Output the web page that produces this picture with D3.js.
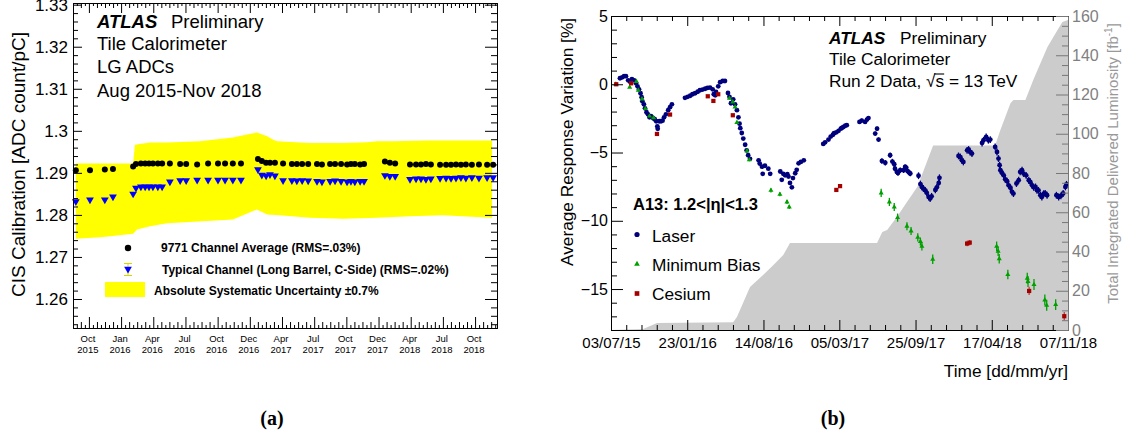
<!DOCTYPE html>
<html>
<head>
<meta charset="utf-8">
<script src="https://cdn.jsdelivr.net/npm/d3@7"></script>
<style>
  body { margin: 0; background: #fff; }
  svg { display: block; font-family: "Liberation Sans", Arial, sans-serif; }
</style>
</head>
<body>
<script>
// ---------------- panel (a): CIS calibration, LG ADCs ----------------
// days are counted from 20 Aug 2015
const cisDays = [8, 48, 90, 113, 170, 178, 192, 204, 215, 226, 240, 252, 274, 303, 320, 351,
  382, 410, 430, 452, 475, 523, 534, 546, 557, 571, 594, 619, 633, 648, 665, 690, 704, 727,
  741, 758, 775, 786, 797, 812, 823, 882, 896, 911, 953, 970, 984, 998, 1012, 1038, 1055,
  1069, 1083, 1097, 1111, 1128, 1148, 1171, 1188];
const cisAvg = [1.2906, 1.2906, 1.2908, 1.2909, 1.2915, 1.2921, 1.2922, 1.2922, 1.2922, 1.2922,
  1.2922, 1.2922, 1.2922, 1.2921, 1.2921, 1.2920, 1.2922, 1.2922, 1.2922, 1.2922, 1.2922,
  1.2933, 1.2928, 1.2924, 1.2924, 1.2924, 1.2922, 1.2921, 1.2921, 1.2921, 1.2921, 1.2921,
  1.2920, 1.2921, 1.2921, 1.2921, 1.2920, 1.2921, 1.2921, 1.2920, 1.2921, 1.2927, 1.2924,
  1.2922, 1.2920, 1.2920, 1.2920, 1.2921, 1.2920, 1.2919, 1.2919, 1.2919, 1.2920, 1.2919,
  1.2920, 1.2919, 1.2920, 1.2919, 1.2919];
const cisTyp = [1.2832, 1.2836, 1.2836, 1.2843, 1.2850, 1.2864, 1.2867, 1.2867, 1.2867, 1.2867,
  1.2867, 1.2867, 1.2879, 1.2882, 1.2882, 1.2883, 1.2883, 1.2883, 1.2883, 1.2883, 1.2883,
  1.2908, 1.2895, 1.2893, 1.2896, 1.2893, 1.2882, 1.2882, 1.2881, 1.2882, 1.2881, 1.2880,
  1.2879, 1.2880, 1.2881, 1.2880, 1.2879, 1.2880, 1.2879, 1.2880, 1.2880, 1.2894, 1.2892,
  1.2892, 1.2885, 1.2886, 1.2886, 1.2885, 1.2886, 1.2887, 1.2888, 1.2887, 1.2888, 1.2889,
  1.2888, 1.2889, 1.2888, 1.2889, 1.2889];
const cisBandTop = [[8, 1.2922], [170, 1.2922], [175, 1.2967], [218, 1.2972], [266, 1.2972],
  [359, 1.2975], [452, 1.2984], [492, 1.2991], [520, 1.2996], [549, 1.2987], [566, 1.2979],
  [577, 1.2975], [670, 1.2971], [764, 1.2971], [831, 1.2973], [860, 1.2975], [905, 1.2975],
  [1001, 1.2977], [1094, 1.2977], [1185, 1.2977]];
const cisBandBottom = [[8, 1.2743], [76, 1.2747], [105, 1.2749], [170, 1.2755], [181, 1.2765],
  [218, 1.2773], [266, 1.2780], [452, 1.2789], [520, 1.2813], [549, 1.2801], [585, 1.2799],
  [670, 1.2793], [764, 1.2791], [860, 1.2793], [953, 1.2797], [1046, 1.2799], [1185, 1.2793]];

const aTickDates = ["2015-10-04", "2016-01-03", "2016-04-03", "2016-07-03", "2016-10-02",
  "2017-01-01", "2017-04-02", "2017-07-02", "2017-10-01", "2017-12-31", "2018-04-01",
  "2018-07-01", "2018-09-30"];
const aTickMonths = ["Oct", "Jan", "Apr", "Jul", "Oct", "Dec", "Apr", "Jul", "Oct", "Dec", "Apr", "Jul", "Oct"];
const aTickYears = ["2015", "2016", "2016", "2016", "2016", "2016", "2017", "2017", "2017", "2017", "2018", "2018", "2018"];
const aYTicks = [1.26, 1.27, 1.28, 1.29, 1.30, 1.31, 1.32, 1.33];
const aYLabels = ["1.26", "1.27", "1.28", "1.29", "1.3", "1.31", "1.32", "1.33"];

// ---------------- panel (b): response variation, A13 cells ----------------
// [days after 03/07/2015, variation %, error %]
const laser = [[24,0.44,0],[30,0.51,0],[35,0.59,0],[40,0.59,0],[46,0.29,0],[51,0.18,0],[56,0.37,0],
  [62,0.29,0],[67,0.07,0],[71,-0.15,0],[75,-0.37,0],[79,-0.66,0],[82,-0.95,0],[84,-1.25,0],
  [88,-1.47,0],[91,-1.76,0],[95,-2.05,0],[99,-2.2,0],[103,-2.42,0],[107,-2.34,0],[113,-2.49,0],
  [117,-2.56,0],[121,-2.71,0],[124,-3.08,0],[125,-3.26,0],[129,-2.71,0],[134,-2.71,0],
  [138,-2.67,0],[142,-2.42,0],[147,-2.2,0],[153,-1.9,0],[158,-1.68,0],[163,-1.47,0],
  [198,-0.99,0],[205,-0.92,0],[212,-0.84,0],[218,-0.73,0],[225,-0.66,0],[232,-0.55,0],
  [238,-0.44,0],[245,-0.39,0],[252,-0.33,0],[258,-0.27,0],[265,-0.24,0],[272,-0.37,0],
  [275,-0.73,0],[279,-0.81,0],[281,-0.56,0],[287,-0.15,0],[292,0.15,0],[299,0.24,0],[305,0.24,0],
  [313,-0.64,0],[317,-0.92,0],[321,-1.39,0],[327,-1.1,0],[332,-1.47,0],[337,-1.9,0],
  [341,-2.42,0],[344,-2.89,0],[346,-3.22,0],[350,-3.57,0],[354,-3.98,0],[359,-4.43,0],
  [363,-4.84,0],[367,-5.2,0],[372,-5.46,0],[395,-5.57,0],[398,-5.81,0],[404,-6.04,0],
  [406,-6.56,0],[412,-5.97,0],[421,-6.18,0],[426,-6.56,0],[453,-6.39,0],[457,-7.0,0],
  [461,-6.56,0],[466,-6.67,0],[472,-6.59,0],[475,-6.76,0],[479,-7.23,0],[484,-7.55,0],
  [487,-6.87,0],[493,-6.52,0],[497,-6.27,0],[502,-5.79,0],[508,-5.69,0],[516,-5.57,0],
  [568,-4.37,0.1],[573,-4.25,0.1],[582,-4.05,0.1],[588,-3.83,0.1],[594,-3.7,0.1],[597,-3.59,0.1],
  [603,-3.52,0.1],[609,-3.41,0.1],[615,-3.25,0.1],[618,-3.19,0.1],[622,-3.13,0.1],[627,-3.03,0.1],
  [631,-3.0,0.1],[665,-2.76,0.15],[671,-2.66,0.15],[680,-2.76,0.15],[685,-2.59,0.15],
  [689,-2.48,0.15],[707,-3.61,0.15],[712,-3.25,0.15],[716,-4.05,0.15],[725,-5.62,0.2],
  [734,-5.75,0.2],[747,-5.2,0.2],[753,-5.66,0.2],[758,-5.86,0.2],[760,-6.18,0.2],[765,-6.42,0.2],
  [768,-6.5,0.2],[774,-6.3,0.2],[783,-6.3,0.2],[787,-6.06,0.2],[790,-6.1,0.2],[794,-6.37,0.2],
  [799,-6.5,0.2],[801,-6.54,0.2],[823,-6.7,0.25],[828,-7.31,0.25],[832,-7.52,0.25],
  [836,-7.64,0.25],[841,-7.77,0.25],[845,-7.95,0.25],[850,-8.26,0.25],[854,-8.37,0.25],
  [858,-8.21,0.25],[868,-7.74,0.25],[872,-7.55,0.25],[877,-7.23,0.25],[879,-6.85,0.25],
  [930,-5.25,0.25],[935,-5.33,0.25],[939,-5.57,0.25],[943,-5.69,0.25],[953,-4.84,0.25],
  [957,-4.78,0.25],[961,-4.96,0.25],[966,-5.08,0.25],[993,-4.3,0.25],[997,-4.1,0.25],
  [1004,-3.86,0.25],[1010,-4.1,0.25],[1015,-4.05,0.25],[1028,-4.59,0.25],[1033,-4.96,0.25],
  [1037,-5.44,0.25],[1040,-5.93,0.25],[1042,-6.3,0.25],[1046,-6.48,0.25],[1051,-6.67,0.25],
  [1055,-6.96,0.25],[1060,-7.1,0.25],[1064,-7.4,0.25],[1069,-7.58,0.25],[1073,-7.88,0.25],
  [1077,-8.01,0.25],[1085,-7.27,0.25],[1091,-7.03,0.25],[1095,-6.42,0.25],[1100,-6.3,0.25],
  [1104,-6.54,0.25],[1111,-6.67,0.25],[1118,-7.03,0.25],[1122,-7.16,0.25],[1127,-7.4,0.25],
  [1131,-7.55,0.25],[1136,-7.52,0.25],[1140,-7.77,0.25],[1144,-7.77,0.25],[1149,-8.13,0.25],
  [1153,-8.26,0.25],[1158,-8.02,0.25],[1162,-8.0,0.25],[1167,-8.13,0.25],[1192,-8.13,0.25],
  [1198,-8.26,0.25],[1204,-8.17,0.25],[1210,-8.0,0.25],[1216,-7.52,0.25],[1219,-7.33,0.25]];
const minBias = [[13,0,0.05],[50,-0.22,0.05],[68,0.2,0.05],[73,-0.44,0.05],[83,-1.08,0.05],
  [92,-1.78,0.05],[103,-2.33,0.05],[114,-2.45,0.05],[317,-1.03,0.08],[326,-1.3,0.08],
  [332,-1.66,0.08],[337,-2.8,0.08],[364,-4.89,0.1],[370,-5.54,0.1],[428,-7.77,0.15],
  [452,-8.06,0.15],[471,-8.62,0.15],[477,-8.99,0.15],[723,-7.96,0.3],[745,-8.62,0.3],
  [758,-8.99,0.3],[767,-9.77,0.3],[792,-10.4,0.3],[803,-10.75,0.3],[821,-11.21,0.3],
  [828,-11.52,0.3],[832,-11.87,0.3],[861,-12.82,0.35],[1032,-11.87,0.35],[1036,-12.23,0.35],
  [1039,-12.78,0.35],[1062,-13.94,0.35],[1114,-14.21,0.4],[1116,-14.45,0.4],[1132,-14.67,0.4],
  [1161,-15.8,0.4],[1166,-16.19,0.4],[1190,-16.14,0.4]];
const cesium = [[14,0,0],[54,0.07,0],[123,-3.64,0],[158,-2.22,0],[259,-0.88,0],[274,-1.22,0],
  [287,-0.73,0],[326,-2.27,0],[603,-7.74,0.1],[613,-7.46,0.1],[953,-11.67,0.2],[960,-11.6,0.2],
  [1119,-15.14,0.3],[1213,-16.99,0.3]];
// [days after 03/07/2015, delivered luminosity fb^-1]
const lumi = [[0,0],[86,0.5],[123,3.6],[327,4],[337,6.6],[372,21.9],[407,28],[434,33],[461,38.2],
  [479,44.3],[712,44.3],[726,50],[739,51],[766,57.8],[793,65.5],[820,73],[862,94],[1028,94],
  [1042,101.9],[1069,115.6],[1077,117.2],[1109,117.2],[1130,127.4],[1168,144.2],[1195,152.9],
  [1208,157],[1224,158]];

const bTickLabels = ["03/07/15", "23/01/16", "14/08/16", "05/03/17", "25/09/17", "17/04/18", "07/11/18"];
const bYTicks = [5, 0, -5, -10, -15];
const lumiTicks = [0, 20, 40, 60, 80, 100, 120, 140, 160];

// ---------------------------------------------------------------------
const svg = d3.select("body").append("svg")
    .attr("width", 1129)
    .attr("height", 441);
svg.append("rect").attr("width", 1129).attr("height", 441).attr("fill", "#fff");

const axisOf = {bottom: d3.axisBottom, top: d3.axisTop, left: d3.axisLeft, right: d3.axisRight};

function tickRow(orient, scale, values, size, pos, color) {
  const horiz = orient === "bottom" || orient === "top";
  return svg.append("g")
      .attr("transform", horiz ? `translate(0,${pos})` : `translate(${pos},0)`)
      .attr("color", color || "#000")
      .call(axisOf[orient](scale).tickValues(values).tickSize(size).tickSizeOuter(0).tickFormat(""));
}

function labelRow(orient, scale, values, fmt, pad, pos, color, fontSize) {
  const horiz = orient === "bottom" || orient === "top";
  const g = svg.append("g")
      .attr("transform", horiz ? `translate(0,${pos})` : `translate(${pos},0)`)
      .attr("color", color || "#000")
      .call(axisOf[orient](scale).tickValues(values).tickSize(0).tickPadding(pad).tickFormat(fmt));
  g.select(".domain").remove();
  g.attr("font-family", null).attr("font-size", fontSize);
  return g;
}

// minor ticks between evenly spaced majors, k = position inside the division
function subdivide(m0, m1, n, lo, hi) {
  const step = (m1 - m0) / n;
  const out = [];
  const first = m0 - Math.floor((m0 - lo) / step + 1e-9) * step;
  for (let v = first; v <= hi + step * 1e-6; v += step) {
    const k = ((Math.round((v - m0) / step) % n) + n) % n;
    if (k !== 0) out.push({v: v, k: k});
  }
  return out;
}

// ================= (a) =================
const aStart = new Date(2015, 7, 20);
const aEnd = new Date(2018, 11, 1);
const xa = d3.scaleTime().domain([aStart, aEnd]).range([73, 497]);
const ya = d3.scaleLinear().domain([1.2531, 1.3304]).range([328, 3]);
const dayA = d => d3.timeDay.offset(aStart, d);
const parseDay = d3.timeParse("%Y-%m-%d");
const aTicks = aTickDates.map(parseDay);

const bandPts = cisBandTop.map(d => [xa(dayA(d[0])), ya(d[1])])
  .concat(cisBandBottom.slice().reverse().map(d => [xa(dayA(d[0])), ya(d[1])]));
svg.append("path").attr("d", d3.line()(bandPts) + "Z").attr("fill", "#ffff00");

svg.append("g").selectAll("circle")
  .data(cisDays)
  .join("circle")
    .attr("cx", d => xa(dayA(d)))
    .attr("cy", (d, i) => ya(cisAvg[i]))
    .attr("r", 3)
    .attr("fill", "#000");

const downTri = d3.symbol(d3.symbolTriangle, 26);
svg.append("g").selectAll("path")
  .data(cisDays)
  .join("path")
    .attr("d", downTri)
    .attr("transform", (d, i) => `translate(${xa(dayA(d))},${ya(cisTyp[i])}) rotate(180)`)
    .attr("fill", "#0000ff");

// axes (a)
const aMinX = subdivide(+aTicks[0], +aTicks[1], 8, +aStart, +aEnd);
tickRow("bottom", xa, aTicks, -11, 328);
tickRow("bottom", xa, aMinX.filter(d => d.k % 2 === 0).map(d => new Date(d.v)), -6, 328);
tickRow("bottom", xa, aMinX.filter(d => d.k % 2 === 1).map(d => new Date(d.v)), -3, 328);
tickRow("top", xa, aTicks, -10, 3);
tickRow("top", xa, aMinX.filter(d => d.k % 2 === 0).map(d => new Date(d.v)), -5, 3);
tickRow("top", xa, aMinX.filter(d => d.k % 2 === 1).map(d => new Date(d.v)), -3, 3);
const aMinY = subdivide(1.26, 1.27, 5, 1.2531, 1.3304).map(d => d.v);
tickRow("left", ya, aYTicks, -9, 73);
tickRow("left", ya, aMinY, -5, 73);
tickRow("right", ya, aYTicks, -12, 497);
tickRow("right", ya, aMinY, -6, 497);
labelRow("left", ya, aYTicks, (d, i) => aYLabels[i], 5, 73, "#000", "17px");

const aLab = svg.append("g").attr("font-size", "9.5px").attr("text-anchor", "middle");
aTicks.forEach((t, i) => {
  const tx = aLab.append("text").attr("x", xa(t) - 1);
  tx.append("tspan").attr("x", xa(t) - 1).attr("y", 342).text(aTickMonths[i]);
  tx.append("tspan").attr("x", xa(t) - 1).attr("y", 353).text(aTickYears[i]);
});

svg.append("text")
    .attr("transform", "translate(25,164.5) rotate(-90)")
    .attr("text-anchor", "middle")
    .attr("font-size", "19px")
    .text("CIS Calibration [ADC count/pC]");

const hdrA = svg.append("g").attr("font-size", "18.5px");
hdrA.append("text").attr("x", 97).attr("y", 28).attr("font-weight", "bold").attr("font-style", "italic").text("ATLAS");
hdrA.append("text").attr("x", 171).attr("y", 28).text("Preliminary");
hdrA.append("text").attr("x", 97).attr("y", 49.5).text("Tile Calorimeter");
hdrA.append("text").attr("x", 97).attr("y", 73).text("LG ADCs");
hdrA.append("text").attr("x", 97).attr("y", 96.5).text("Aug 2015-Nov 2018");

const legA = svg.append("g").attr("font-size", "12px").attr("font-weight", "bold");
legA.append("circle").attr("cx", 128).attr("cy", 248).attr("r", 3.2);
legA.append("text").attr("x", 161).attr("y", 252).text("9771 Channel Average (RMS=.03%)");
legA.append("path").attr("d", "M124,263.5H132M128,263.5V275.5M124,275.5H132")
    .attr("stroke", "#d8d800").attr("fill", "none");
legA.append("path").attr("d", downTri).attr("transform", "translate(128,269) rotate(180)").attr("fill", "#0000ff");
legA.append("text").attr("x", 162).attr("y", 273.5).text("Typical Channel (Long Barrel, C-Side) (RMS=.02%)");
legA.append("rect").attr("x", 105).attr("y", 282).attr("width", 40).attr("height", 15).attr("fill", "#ffff00");
legA.append("text").attr("x", 154).attr("y", 294.5).text("Absolute Systematic Uncertainty \u00b10.7%");

// ================= (b) =================
const parseTick = d3.timeParse("%d/%m/%y");
const bTicks = bTickLabels.map(parseTick);
const bStart = new Date(2015, 6, 3);
const xb = d3.scaleTime().domain([bTicks[0], bTicks[bTicks.length - 1]]).range([611, 1068]);
const yb = d3.scaleLinear().domain([-18, 5]).range([330, 16]);
const yl = d3.scaleLinear().domain([0, 160]).range([330, 16]);
const dayB = d => d3.timeDay.offset(bStart, d);

svg.append("clipPath").attr("id", "clipB")
  .append("rect").attr("x", 611).attr("y", 16).attr("width", 457).attr("height", 314);
const pb = svg.append("g").attr("clip-path", "url(#clipB)");

pb.append("path")
    .datum(lumi)
    .attr("d", d3.area()
      .x(d => xb(dayB(d[0])))
      .y0(yl(0))
      .y1(d => yl(d[1])))
    .attr("fill", "#cccccc");

function errBars(data, color) {
  pb.append("g").selectAll("line")
    .data(data.filter(d => d[2] > 0))
    .join("line")
      .attr("x1", d => xb(dayB(d[0]))).attr("x2", d => xb(dayB(d[0])))
      .attr("y1", d => yb(d[1] - d[2])).attr("y2", d => yb(d[1] + d[2]))
      .attr("stroke", color)
      .attr("stroke-width", 1.3);
}

const laserCol = "#00007d", mbCol = "#00a000", csCol = "#a50000";
errBars(laser, laserCol);
pb.append("g").selectAll("circle")
  .data(laser)
  .join("circle")
    .attr("cx", d => xb(dayB(d[0])))
    .attr("cy", d => yb(d[1]))
    .attr("r", 2.4)
    .attr("fill", laserCol);

const upTri = d3.symbol(d3.symbolTriangle, 11);
errBars(minBias, mbCol);
pb.append("g").selectAll("path")
  .data(minBias)
  .join("path")
    .attr("d", upTri)
    .attr("transform", d => `translate(${xb(dayB(d[0]))},${yb(d[1])})`)
    .attr("fill", mbCol);

const square = d3.symbol(d3.symbolSquare, 18);
errBars(cesium, "#c04040");
pb.append("g").selectAll("path")
  .data(cesium)
  .join("path")
    .attr("d", square)
    .attr("transform", d => `translate(${xb(dayB(d[0]))},${yb(d[1])})`)
    .attr("fill", csCol);

// axes (b)
const bMinX = [];
bTicks.slice(1).forEach((t, i) => {
  d3.range(1, 5).forEach(k => bMinX.push(new Date(+bTicks[i] + (t - bTicks[i]) * k / 5)));
});
tickRow("bottom", xb, bTicks, -10, 330);
tickRow("bottom", xb, bMinX, -5, 330);
tickRow("top", xb, bTicks, -10, 16);
tickRow("top", xb, bMinX, -5, 16);
const bMinY = subdivide(-15, -10, 5, -18, 5).map(d => d.v);
tickRow("left", yb, bYTicks, -12, 611);
tickRow("left", yb, bMinY, -6, 611);
const lMinY = subdivide(0, 20, 4, 0, 160).map(d => d.v);
tickRow("right", yl, lumiTicks, -12, 1068, "#777");
tickRow("right", yl, lMinY, -6, 1068, "#777");

labelRow("bottom", xb, bTicks, (d, i) => bTickLabels[i], 7, 330, "#000", "15px");
labelRow("left", yb, bYTicks, d3.format("d"), 3, 611, "#000", "16px");
labelRow("right", yl, lumiTicks, d3.format("d"), 4, 1068, "#808080", "16px");

svg.append("text")
    .attr("transform", "translate(573,142) rotate(-90)")
    .attr("text-anchor", "middle")
    .attr("font-size", "17.3px")
    .text("Average Response Variation [%]");

const lumiTitle = svg.append("text")
    .attr("transform", "translate(1117.5,163.5) rotate(-90)")
    .attr("text-anchor", "middle")
    .attr("font-size", "15px")
    .attr("fill", "#999");
lumiTitle.append("tspan").text("Total Integrated Delivered Luminosity [fb");
lumiTitle.append("tspan").attr("dy", -6).attr("font-size", "10px").text("-1");
lumiTitle.append("tspan").attr("dy", 6).text("]");

svg.append("text")
    .attr("x", 1068).attr("y", 377)
    .attr("text-anchor", "end")
    .attr("font-size", "17.3px")
    .text("Time [dd/mm/yr]");

const hdrB = svg.append("g").attr("font-size", "17.3px");
hdrB.append("text").attr("x", 829).attr("y", 43.5).attr("font-weight", "bold").attr("font-style", "italic").text("ATLAS");
hdrB.append("text").attr("x", 900).attr("y", 43.5).text("Preliminary");
hdrB.append("text").attr("x", 829).attr("y", 65).text("Tile Calorimeter");
const runText = hdrB.append("text").attr("x", 829).attr("y", 86.5).text("Run 2 Data, \u221as = 13 TeV");
const sIdx = runText.text().indexOf("s =");
const sx0 = runText.node().getStartPositionOfChar(sIdx).x;
const sx1 = runText.node().getEndPositionOfChar(sIdx).x;
hdrB.append("line").attr("x1", sx0 - 1).attr("x2", sx1).attr("y1", 74).attr("y2", 74)
    .attr("stroke", "#000").attr("stroke-width", 1.1);

const legB = svg.append("g").attr("font-size", "17.3px");
legB.append("text").attr("x", 633).attr("y", 209.5).attr("font-weight", "bold").attr("font-size", "16.5px")
    .text("A13: 1.2<|\u03b7|<1.3");
legB.append("circle").attr("cx", 637).attr("cy", 234.5).attr("r", 2.6).attr("fill", laserCol);
legB.append("text").attr("x", 652).attr("y", 241.5).text("Laser");
legB.append("path").attr("d", d3.symbol(d3.symbolTriangle, 14)).attr("transform", "translate(637,264)").attr("fill", mbCol);
legB.append("text").attr("x", 652).attr("y", 271).text("Minimum Bias");
legB.append("path").attr("d", d3.symbol(d3.symbolSquare, 22)).attr("transform", "translate(637,293.5)").attr("fill", csCol);
legB.append("text").attr("x", 652).attr("y", 300).text("Cesium");

// panel captions
const cap = svg.append("g")
    .attr("font-family", "'Liberation Serif', 'DejaVu Serif', serif")
    .attr("font-weight", "bold")
    .attr("font-size", "20px")
    .attr("text-anchor", "middle");
cap.append("text").attr("x", 272).attr("y", 425).text("(a)");
cap.append("text").attr("x", 833).attr("y", 425).text("(b)");
</script>
</body>
</html>
